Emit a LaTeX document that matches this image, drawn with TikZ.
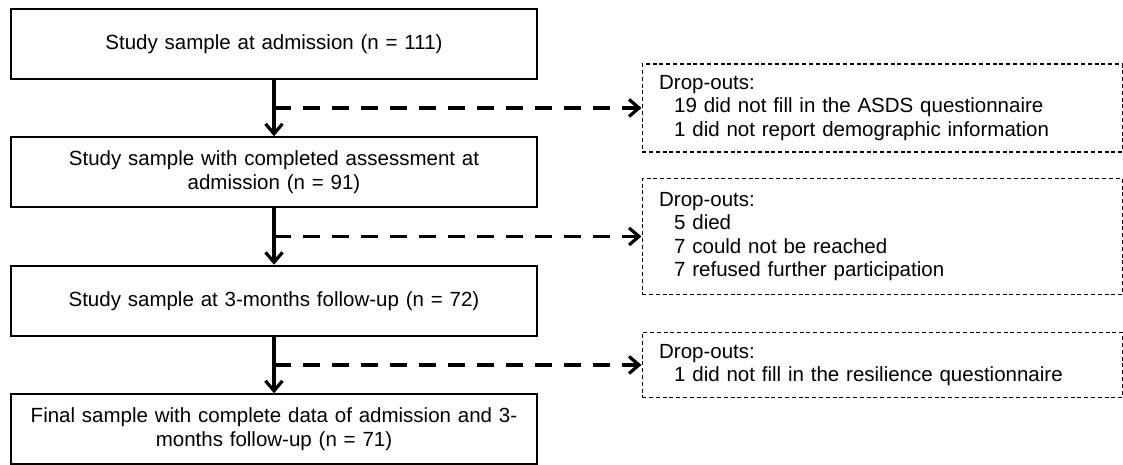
\documentclass[tikz,border=0pt]{standalone}
\usepackage{fontspec}
\setmainfont{Liberation Sans}
\usetikzlibrary{shapes,arrows.meta,positioning,calc}
\tikzstyle{block} = [rectangle, draw, line width=1.9pt, 
	text width=500pt, inner xsep=13pt, text centered, minimum height=70pt,
	font=\fontsize{20.5}{24}\selectfont]
\tikzstyle{dropbox} = [rectangle, draw, line width=1.3pt, dash pattern=on 4pt off 2.8pt,
	text width=446pt, inner xsep=17pt, align=left,
	font=\fontsize{20.5}{23.5}\selectfont]
\tikzstyle{line} = [draw, line width=3.2pt, -{Straight Barb[length=10pt,width=17pt]}]
\tikzstyle{dropline} = [line, dash pattern=on 17pt off 12pt]
\newcommand{\dropindent}{\hspace*{15pt}}

\begin{document}
\begin{tikzpicture}[x=1pt, y=-1pt, node distance=128.5pt, auto]
	\useasboundingbox (0,0) rectangle (1123,464);
	% Place nodes
	\node [block] (admission) at (274,43.7) {Study sample at admission (n = 111)};
	\node [block, below of=admission] (assessed) {Study sample with completed assessment at\\ admission (n = 91)};
	\node [block, below of=assessed] (followup) {Study sample at 3-months follow-up (n = 72)};
	\node [block, below of=followup] (final) {Final sample with complete data of admission and 3-\\ months follow-up (n = 71)};
	% Split points between the blocks
	\coordinate (split1) at ($(admission.south)!0.5!(assessed.north)$);
	\coordinate (split2) at ($(assessed.south)!0.5!(followup.north)$);
	\coordinate (split3) at ($(followup.south)!0.5!(final.north)$);
	% Drop-out boxes
	\node [dropbox, right=367.5pt of split1, minimum height=88pt] (drop1) {Drop-outs:\\
		\dropindent 19 did not fill in the ASDS questionnaire\\
		\dropindent 1 did not report demographic information};
	\node [dropbox, right=367.5pt of split2, minimum height=116pt] (drop2) {Drop-outs:\\
		\dropindent 5 died\\
		\dropindent 7 could not be reached\\
		\dropindent 7 refused further participation};
	\node [dropbox, right=367.5pt of split3, minimum height=65pt] (drop3) {Drop-outs:\\
		\dropindent 1 did not fill in the resilience questionnaire};
	% Draw edges
	\path [line] (admission) -- (assessed);
	\path [line] (assessed) -- (followup);
	\path [line] (followup) -- (final);
	\path [dropline] (split1) -- (drop1);
	\path [dropline] (split2) -- (drop2);
	\path [dropline] (split3) -- (drop3);
\end{tikzpicture}
\end{document}
